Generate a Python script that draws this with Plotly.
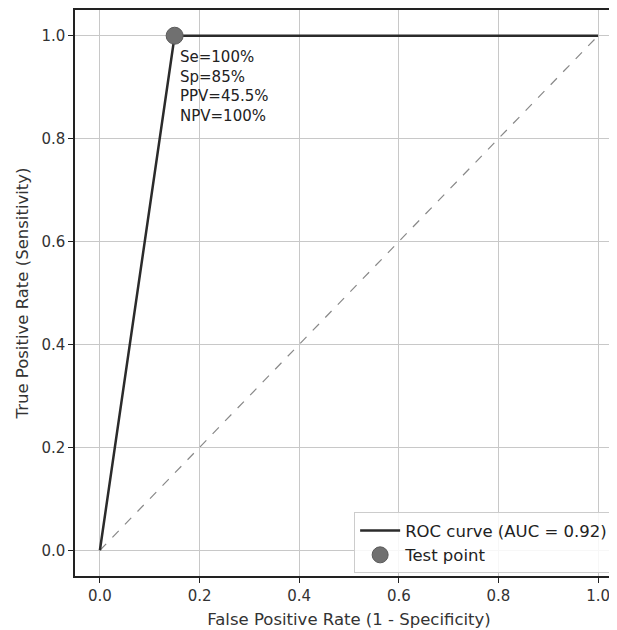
import plotly.graph_objects as go

# dados da curva ROC
fpr = [0.0, 0.15, 1.0]
tpr = [0.0, 1.0, 1.0]
diag_x = [0.0, 1.0]
diag_y = [0.0, 1.0]
ponto_x = [0.15]
ponto_y = [1.0]
metricas = ["Se=100%", "Sp=85%", "PPV=45.5%", "NPV=100%"]
ticks = [0.0, 0.2, 0.4, 0.6, 0.8, 1.0]
tick_txt = ["0.0", "0.2", "0.4", "0.6", "0.8", "1.0"]

fonte = "DejaVu Sans"

fig = go.Figure()
fig.add_trace(go.Scatter(x=diag_x, y=diag_y, mode="lines", showlegend=False,
                         line=dict(color="#888888", width=1.2, dash="dash")))
fig.add_trace(go.Scatter(x=fpr, y=tpr, mode="lines", name="ROC curve (AUC = 0.92)",
                         line=dict(color="#2b2b2b", width=2.5)))
fig.add_trace(go.Scatter(x=ponto_x, y=ponto_y, mode="markers", name="Test point",
                         marker=dict(color="#707070", size=17, line=dict(color="#5a5a5a", width=1))))

fig.add_annotation(x=ponto_x[0], y=ponto_y[0], xref="x", yref="y",
                   text="<br>".join(metricas), showarrow=False,
                   xanchor="left", yanchor="top", align="left",
                   xshift=3, yshift=-10,
                   font=dict(family=fonte, size=15, color="#222222"))

eixo = dict(showline=True, linecolor="#222222", linewidth=1.5, mirror=True,
            showgrid=True, gridcolor="#c8c8c8", gridwidth=1,
            ticks="outside", ticklen=5, tickcolor="#222222",
            tickvals=ticks, ticktext=tick_txt, zeroline=False,
            tickfont=dict(family=fonte, size=15, color="#333333"))

fig.update_layout(
    width=617, height=630,
    plot_bgcolor="white", paper_bgcolor="white",
    margin=dict(l=67, r=0, t=2, b=62),
    font=dict(family=fonte, size=14, color="#333333"),
    xaxis=dict(eixo, range=[-0.05, 1.05],
               title=dict(text="False Positive Rate (1 - Specificity)", standoff=10,
                          font=dict(family=fonte, size=16.5, color="#333333"))),
    yaxis=dict(eixo, range=[-0.05, 1.05],
               title=dict(text="True Positive Rate (Sensitivity)", standoff=9,
                          font=dict(family=fonte, size=16.5, color="#333333"))),
    legend=dict(x=0.982, y=0.005, xanchor="right", yanchor="bottom",
                bgcolor="rgba(255,255,255,0.85)", bordercolor="#cccccc", borderwidth=1,
                tracegroupgap=0, itemwidth=40,
                font=dict(family=fonte, size=16.5, color="#222222")),
)

fig.write_html("out.html")
